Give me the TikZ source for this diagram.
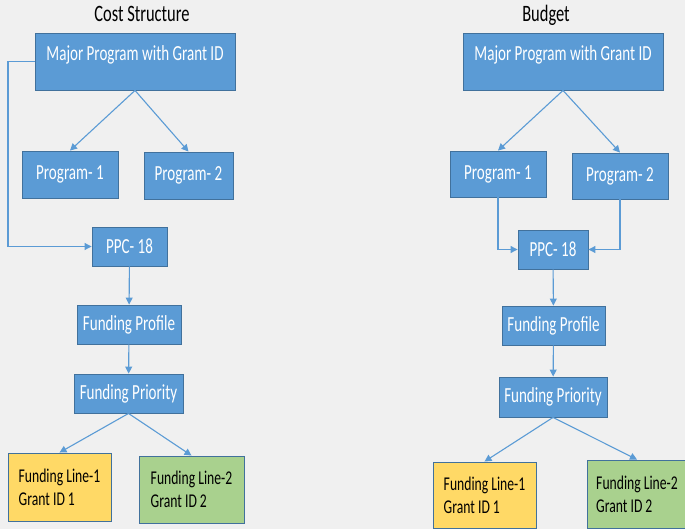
\documentclass[tikz,border=0pt]{standalone}
\usepackage{fontspec}
\setmainfont[FakeStretch=0.7]{Carlito}
\usetikzlibrary{arrows.meta}
\definecolor{pagegray}{HTML}{F0F0F0}
\definecolor{boxblue}{HTML}{5B9BD5}
\definecolor{boxline}{HTML}{41719C}
\definecolor{connblue}{HTML}{5B9BD5}
\definecolor{lineyellow}{HTML}{FFD966}
\definecolor{linegreen}{HTML}{A9D18E}

\begin{document}
\begin{tikzpicture}[x=1pt,y=-1pt,
		box/.style={draw=boxline, fill=boxblue, text=white, line width=0.9pt, inner sep=0pt, font=\fontsize{21.5}{24}\selectfont},
		linebox/.style={draw=boxline, text=black, line width=0.9pt, inner sep=0pt, align=left, font=\fontsize{19.5}{23}\selectfont},
		conn/.style={draw=connblue, line width=1.1pt, -{Triangle[length=7pt,width=7pt]}},
		title/.style={anchor=base, inner sep=0pt, font=\fontsize{23.5}{26}\selectfont}]
			\fill[pagegray] (0,0) rectangle (685,529);
			\useasboundingbox (0,0) rectangle (685,529);

			\node[title] (ttl1) at (142,22) {Cost Structure};
			\node[title] (ttl2) at (546,22) {Budget};

			\node[box, minimum width=200pt, text height=28pt, text depth=29pt] (maj1) at (135,61.5) {Major Program with Grant ID};
			\node[box, minimum width=96pt, minimum height=47pt] (p11) at (70,174.5) {Program- 1};
			\node[box, minimum width=89pt, minimum height=47pt] (p12) at (188.5,175.5) {Program- 2};
			\node[box, minimum width=75pt, minimum height=39pt] (ppc1) at (129.5,246.5) {PPC- 18};
			\node[box, minimum width=104pt, minimum height=39pt] (prof1) at (129,324.5) {Funding Profile};
			\node[box, minimum width=109pt, minimum height=39pt] (prio1) at (128.5,393.5) {Funding Priority};
			\node[linebox, fill=lineyellow, minimum width=103pt, minimum height=68pt] (fl11) at (59.5,487) {Funding Line-1\\Grant ID 1};
			\node[linebox, fill=linegreen, minimum width=105pt, minimum height=67pt] (fl12) at (191.5,489.5) {Funding Line-2\\Grant ID 2};
			\coordinate (loop1) at (8,61.5);

			\node[box, minimum width=200pt, text height=28pt, text depth=29pt] (maj2) at (563,61.5) {Major Program with Grant ID};
			\node[box, minimum width=96pt, minimum height=46pt] (p21) at (498,174) {Program- 1};
			\node[box, minimum width=96pt, minimum height=46pt] (p22) at (620,176) {Program- 2};
			\node[box, minimum width=70pt, minimum height=39pt] (ppc2) at (553,249.5) {PPC- 18};
			\node[box, minimum width=103pt, minimum height=39pt] (prof2) at (553.5,325.5) {Funding Profile};
			\node[box, minimum width=108pt, minimum height=40pt] (prio2) at (553,397) {Funding Priority};
			\node[linebox, fill=lineyellow, minimum width=103pt, minimum height=66pt] (fl21) at (484.5,495) {Funding Line-1\\Grant ID 1};
			\node[linebox, fill=linegreen, minimum width=100pt, minimum height=68pt] (fl22) at (637,494) {Funding Line-2\\Grant ID 2};

			\draw[conn] (maj1.south) -- (p11.north);
			\draw[conn] (maj1.south) -- (p12.north);
			\draw[conn] (maj1.west) -- (loop1) |- (ppc1.west);
			\draw[conn] (ppc1) -- (prof1);
			\draw[conn] (prof1) -- (prio1);
			\draw[conn] (prio1.south) -- (fl11.north);
			\draw[conn] (prio1.south) -- (fl12.north);

			\draw[conn] (maj2.south) -- (p21.north);
			\draw[conn] (maj2.south) -- (p22.north);
			\draw[conn] (p21.south) |- (ppc2.west);
			\draw[conn] (p22.south) |- (ppc2.east);
			\draw[conn] (ppc2) -- (prof2);
			\draw[conn] (prof2) -- (prio2);
			\draw[conn] (prio2.south) -- (fl21.north);
			\draw[conn] (prio2.south) -- (fl22.north);
		\end{tikzpicture}
\end{document}
